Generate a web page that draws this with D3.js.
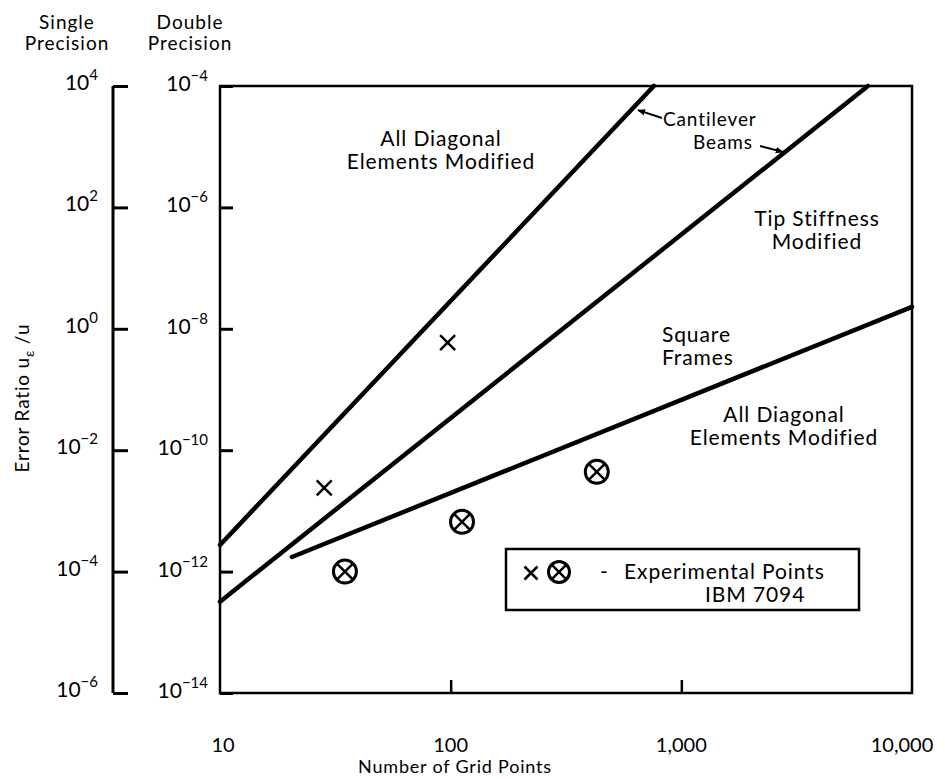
<!DOCTYPE html>
<html>
<head>
<meta charset="utf-8">
<script src="https://cdn.jsdelivr.net/npm/d3@7"></script>
<style>
  html, body { margin: 0; padding: 0; background: #fff; }
  svg { display: block; }
  text { font-family: Lato, "Noto Sans", sans-serif; fill: #000; }
</style>
</head>
<body>
<svg id="chart" width="945" height="779"></svg>
<script>
// ---------------- data ----------------
const xTickValues = [10, 100, 1000, 10000];
const xTickLabels = ["10", "100", "1,000", "10,000"];
const doubleExponents = [-4, -6, -8, -10, -12, -14];   // double precision axis
const singleExponents = [4, 2, 0, -2, -4, -6];         // single precision axis

// theoretical lines: [grid points, error ratio (double precision)]
const lineAllDiagonal = [[10, 2.75e-12], [760, 1e-4]];
const lineTipStiffness = [[10, 3.2e-13], [6440, 1e-4]];
const lineSquareFrames = [[20.5, 1.74e-12], [10000, 2.3e-8]];

// experimental points
const crossPoints = [[28.3, 2.4e-11], [97, 5.9e-9]];
const circlePoints = [[34.8, 1.0e-12], [112, 6.6e-12], [430, 4.4e-11]];

// annotations (data coordinates)
const annotations = [
  { lines: ["All Diagonal", "Elements Modified"], at: [90.8, 1.03e-5], anchor: "middle", size: 21 },
  { lines: ["Cantilever"], at: [832, 2.2e-5], anchor: "start", size: 19 },
  { lines: ["Beams"], at: [1124, 9.3e-6], anchor: "start", size: 19 },
  { lines: ["Tip Stiffness", "Modified"], at: [3873, 4.9e-7], anchor: "middle", size: 21 },
  { lines: ["Square", "Frames"], at: [824, 6.1e-9], anchor: "start", size: 21 },
  { lines: ["All Diagonal", "Elements Modified"], at: [2786, 2.9e-10], anchor: "middle", size: 21 }
];
const arrows = [
  { from: [824, 2.97e-5], to: [649, 4.0e-5] },
  { from: [2193, 1.03e-5], to: [2760, 8.2e-6] }
];

// ---------------- layout ----------------
const svg = d3.select("#chart");
const plot = { left: 220, right: 912, top: 86, bottom: 693 };
const x = d3.scaleLog().domain([10, 10000]).range([plot.left, plot.right]);
const y = d3.scaleLog().domain([1e-14, 1e-4]).range([plot.bottom, plot.top]);
const ySingle = d3.scaleLog().domain([1e-6, 1e4]).range([plot.bottom, plot.top]);
const singleAxisX = 113;
const fs = 21;      // annotation text
const tfs = 21;     // tick label base
const sfs = 15;     // superscripts
const ls = 0.9;     // letter spacing

svg.append("defs").append("marker")
  .attr("id", "arrowhead").attr("viewBox", "0 0 10 10")
  .attr("refX", 9).attr("refY", 5)
  .attr("markerWidth", 8).attr("markerHeight", 8)
  .attr("markerUnits", "userSpaceOnUse")
  .attr("orient", "auto")
  .append("path").attr("d", "M0,1 L10,5 L0,9 Z").attr("fill", "#000");

// ---- headers ----
const headers = [
  { lines: ["Single", "Precision"], cx: 67 },
  { lines: ["Double", "Precision"], cx: 190 }
];
headers.forEach(h => {
  h.lines.forEach((t, i) => {
    svg.append("text").attr("x", h.cx).attr("y", 29 + i * 21)
      .attr("text-anchor", "middle").attr("font-size", 19)
      .attr("letter-spacing", 1).text(t);
  });
});

// ---- plot frame ----
svg.append("rect")
  .attr("x", plot.left).attr("y", plot.top)
  .attr("width", plot.right - plot.left).attr("height", plot.bottom - plot.top)
  .attr("fill", "none").attr("stroke", "#000").attr("stroke-width", 2.5);

// ---- double precision axis (left edge of frame) ----
const yAxis = d3.axisRight(y)
  .tickValues(doubleExponents.map(e => Math.pow(10, e)))
  .tickSize(13).tickFormat("");
const gy = svg.append("g").attr("transform", `translate(${plot.left},0)`).call(yAxis);
gy.select(".domain").remove();
gy.selectAll(".tick line").attr("stroke", "#000").attr("stroke-width", 3);

doubleExponents.forEach(e => {
  const t = svg.append("text").attr("x", 208).attr("y", y(Math.pow(10, e)) + 5)
    .attr("text-anchor", "end").attr("font-size", tfs);
  t.append("tspan").text("10");
  t.append("tspan").attr("dy", -10).attr("font-size", sfs)
    .text("\u2212" + (-e));
});

// ---- single precision axis ----
svg.append("line")
  .attr("x1", singleAxisX).attr("x2", singleAxisX)
  .attr("y1", ySingle(1e4)).attr("y2", ySingle(1e-6))
  .attr("stroke", "#000").attr("stroke-width", 3);
const ySingleAxis = d3.axisRight(ySingle)
  .tickValues(singleExponents.map(e => Math.pow(10, e)))
  .tickSize(15).tickFormat("");
const gs = svg.append("g").attr("transform", `translate(${singleAxisX},0)`).call(ySingleAxis);
gs.select(".domain").remove();
gs.selectAll(".tick line").attr("stroke", "#000").attr("stroke-width", 3);

singleExponents.forEach(e => {
  const t = svg.append("text").attr("x", 98).attr("y", ySingle(Math.pow(10, e)) + 4)
    .attr("text-anchor", "end").attr("font-size", tfs);
  t.append("tspan").text("10");
  t.append("tspan").attr("dy", -10).attr("font-size", sfs)
    .text(e < 0 ? "\u2212" + (-e) : String(e));
});

// ---- x axis ----
const xAxis = d3.axisTop(x).tickValues(xTickValues.slice(1, 3)).tickSize(13).tickFormat("");
const gx = svg.append("g").attr("transform", `translate(0,${plot.bottom})`).call(xAxis);
gx.select(".domain").remove();
gx.selectAll(".tick line").attr("stroke", "#000").attr("stroke-width", 2.5);

xTickValues.forEach((v, i) => {
  svg.append("text").attr("x", x(v) + (i === 0 ? 3 : i === 3 ? -10 : 0)).attr("y", 752)
    .attr("text-anchor", "middle").attr("font-size", 20).text(xTickLabels[i]);
});

svg.append("text").attr("x", 455).attr("y", 773)
  .attr("text-anchor", "middle").attr("font-size", 18).attr("letter-spacing", 0.8)
  .text("Number of Grid Points");

// ---- y title ----
const yt = svg.append("text")
  .attr("transform", "translate(29,398) rotate(-90)")
  .attr("text-anchor", "middle").attr("font-size", 19).attr("letter-spacing", 0.8);
yt.append("tspan").text("Error Ratio u");
yt.append("tspan").attr("dy", 5).attr("font-size", 14).text("\u03B5");
yt.append("tspan").attr("dy", -5).text(" /u");

// ---- lines ----
const lineGen = d3.line().x(d => x(d[0])).y(d => y(d[1]));
[lineAllDiagonal, lineTipStiffness, lineSquareFrames].forEach(ld => {
  svg.append("path").datum(ld).attr("d", lineGen)
    .attr("fill", "none").attr("stroke", "#000").attr("stroke-width", 4.5)
    .attr("stroke-linecap", "round");
});

// ---- experimental points ----
function drawCross(g, cx, cy, r) {
  g.append("path")
    .attr("d", `M${cx - r},${cy - r}L${cx + r},${cy + r}M${cx - r},${cy + r}L${cx + r},${cy - r}`)
    .attr("stroke", "#000").attr("stroke-width", 2.5).attr("fill", "none");
}
function drawCircleCross(g, cx, cy, r) {
  g.append("circle").attr("cx", cx).attr("cy", cy).attr("r", r)
    .attr("fill", "#fff").attr("stroke", "#000").attr("stroke-width", 3);
  const k = r * 0.68;
  g.append("path")
    .attr("d", `M${cx - k},${cy - k}L${cx + k},${cy + k}M${cx - k},${cy + k}L${cx + k},${cy - k}`)
    .attr("stroke", "#000").attr("stroke-width", 2.5);
}
const gp = svg.append("g");
crossPoints.forEach(p => drawCross(gp, x(p[0]), y(p[1]), 7.5));
circlePoints.forEach(p => drawCircleCross(gp, x(p[0]), y(p[1]), 11.5));

// ---- annotations ----
annotations.forEach(a => {
  a.lines.forEach((t, i) => {
    svg.append("text").attr("x", x(a.at[0])).attr("y", y(a.at[1]) + i * 23)
      .attr("text-anchor", a.anchor).attr("font-size", a.size).attr("letter-spacing", ls)
      .text(t);
  });
});
arrows.forEach(a => {
  svg.append("line")
    .attr("x1", x(a.from[0])).attr("y1", y(a.from[1]))
    .attr("x2", x(a.to[0])).attr("y2", y(a.to[1]))
    .attr("stroke", "#000").attr("stroke-width", 2)
    .attr("marker-end", "url(#arrowhead)");
});

// ---- legend ----
const lg = svg.append("g");
lg.append("rect").attr("x", 506).attr("y", 549).attr("width", 353).attr("height", 61)
  .attr("fill", "#fff").attr("stroke", "#000").attr("stroke-width", 2.5);
drawCross(lg, 531, 573, 6.5);
drawCircleCross(lg, 559, 572, 10.5);
lg.append("text").attr("x", 600).attr("y", 579).attr("font-size", fs).text("-");
lg.append("text").attr("x", 624).attr("y", 579).attr("font-size", fs).attr("letter-spacing", ls)
  .text("Experimental Points");
lg.append("text").attr("x", 705).attr("y", 602).attr("font-size", fs).attr("letter-spacing", ls)
  .text("IBM 7094");
</script>
</body>
</html>
